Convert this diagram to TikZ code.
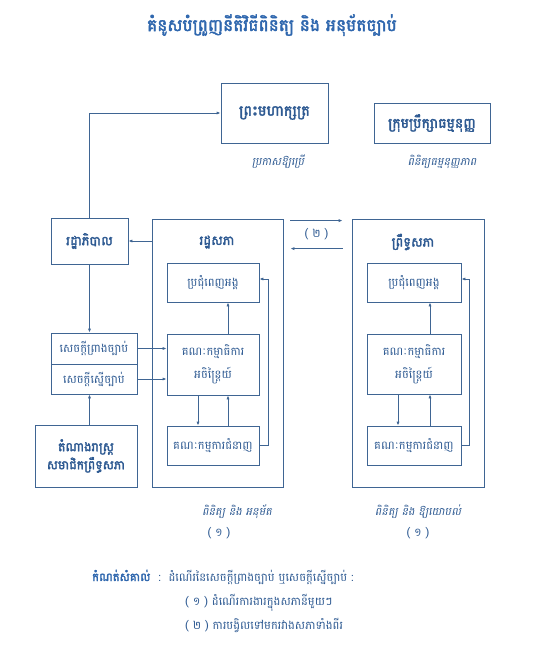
\documentclass[tikz,border=0pt]{standalone}
\usepackage{fontspec}
\usepackage{xcolor}
\usepackage{tikz}
\usetikzlibrary{arrows.meta,positioning,calc}
\newfontfamily\khmer[Script=Khmer,AutoFakeBold=2.5,AutoFakeSlant=0.2]{Battambang}
\definecolor{lineblue}{HTML}{3F6593}
\definecolor{textblue}{HTML}{2E5A92}
\definecolor{titleblue}{HTML}{2F67AE}
\newcommand{\kh}{\khmer\fontsize{11.5}{15}\selectfont}
\newcommand{\khb}{\khmer\bfseries\fontsize{13}{18}\selectfont}

\begin{document}
\begin{tikzpicture}[x=1pt,y=-1pt,
    box/.style={draw=lineblue,line width=0.8pt,inner sep=0pt,align=center,text=textblue,font=\kh},
    bigbox/.style={box,font=\khb},
    frame/.style={draw=lineblue,line width=0.8pt,inner sep=0pt},
    lbl/.style={text=textblue,font=\kh,inner sep=1pt},
    slant/.style={lbl,font=\khmer\itshape\fontsize{11}{14}\selectfont},
    arr/.style={draw=lineblue,line width=0.8pt,-{Latex[length=4pt,width=3.2pt]}}]
  \useasboundingbox (0,0) rectangle (549,661);

  % Title
  \node[text=titleblue,font=\khmer\bfseries\fontsize{17}{20}\selectfont] (title) at (272,25)
    {គំនូសបំព្រួញនីតិវិធីពិនិត្យ  និង  អនុម័តច្បាប់};

  % Top boxes
  \node[bigbox,font=\khmer\bfseries\fontsize{14.5}{18}\selectfont,
        minimum width=107pt,minimum height=60pt] (king) at (274.5,113) {ព្រះមហាក្សត្រ};
  \node[bigbox,font=\khmer\bfseries\fontsize{14}{18}\selectfont,
        minimum width=116pt,minimum height=40pt] (council) at (432,123) {ក្រុមប្រឹក្សាធម្មនុញ្ញ};
  \node[slant] (kinglbl) at (278,162) {ប្រកាសឱ្យប្រើ};
  \node[slant] (councillbl) at (442,162) {ពិនិត្យធម្មនុញ្ញភាព};

  % Government side
  \node[bigbox,minimum width=77pt,minimum height=46pt] (gov) at (89.5,241) {រដ្ឋាភិបាល};
  \node[box,minimum width=86pt,minimum height=31pt] (draft) at (94,348.5) {សេចក្តីព្រាងច្បាប់};
  \node[box,minimum width=86pt,minimum height=30pt] (propose) at (94,379) {សេចក្តីស្នើច្បាប់};
  \node[bigbox,font=\khmer\bfseries\fontsize{12.5}{18}\selectfont,
        minimum width=102pt,minimum height=62pt] (mps) at (86,456)
    {តំណាងរាស្ត្រ\\សមាជិកព្រឹទ្ធសភា};

  % National Assembly
  \node[frame,minimum width=131pt,minimum height=268pt] (na) at (217.5,353) {};
  \node[lbl,font=\khb] (natitle) at (217,242) {រដ្ឋសភា};
  \node[box,minimum width=92pt,minimum height=39pt] (naplen) at (213,282.5) {ប្រជុំពេញអង្គ};
  \node[box,minimum width=92pt,minimum height=61pt] (nacomm) at (213,364.5)
    {គណៈកម្មាធិការ\\[8pt]អចិន្ត្រៃយ៍};
  \node[box,minimum width=92pt,minimum height=39pt] (naspec) at (213,445.5) {គណៈកម្មការជំនាញ};

  % Senate
  \node[frame,minimum width=132pt,minimum height=268pt] (senate) at (418,353) {};
  \node[lbl,font=\khb] (setitle) at (413,242) {ព្រឹទ្ធសភា};
  \node[box,minimum width=94pt,minimum height=39pt] (seplen) at (414,282.5) {ប្រជុំពេញអង្គ};
  \node[box,minimum width=94pt,minimum height=60pt] (secomm) at (414,364)
    {គណៈកម្មាធិការ\\[8pt]អចិន្ត្រៃយ៍};
  \node[box,minimum width=94pt,minimum height=39pt] (sespec) at (414,445.5) {គណៈកម្មការជំនាញ};

  % Bottom labels
  \node[slant] (nalbl) at (237,512) {ពិនិត្យ និង អនុម័ត};
  \node[lbl] (nanum) at (219,533) {( ១ )};
  \node[slant] (selbl) at (418,512) {ពិនិត្យ និង ឱ្យយោបល់};
  \node[lbl] (senum) at (418,533) {( ១ )};

  % Government connectors
  \draw[arr] (gov.north) |- (king.west);
  \draw[arr] (na.west |- gov.east) -- (gov.east);
  \draw[arr] (gov.south) -- (gov.south |- draft.north);
  \draw[arr] (gov.south |- mps.north) -- (gov.south |- propose.south);
  \draw[arr] (draft.east) -- (draft.east -| nacomm.west);
  \draw[arr] (propose.east) -- (propose.east -| nacomm.west);

  % Inside National Assembly
  \draw[arr] ([xshift=15pt]nacomm.north) -- ([xshift=15pt]naplen.south);
  \draw[arr] ([xshift=-15pt]nacomm.south) -- ([xshift=-15pt]naspec.north);
  \draw[arr] ([xshift=15pt]naspec.north) -- ([xshift=15pt]nacomm.south);
  \draw[arr] (naspec.east) -- ++(9,0) |- ([yshift=3.5pt]naplen.east);

  % Inside Senate
  \draw[arr] ([xshift=16pt]secomm.north) -- ([xshift=16pt]seplen.south);
  \draw[arr] ([xshift=-16pt]secomm.south) -- ([xshift=-16pt]sespec.north);
  \draw[arr] ([xshift=16pt]sespec.north) -- ([xshift=16pt]secomm.south);
  \draw[arr] (sespec.east) -- ++(8,0) |- ([yshift=3.5pt]seplen.east);

  % Between the two houses
  \coordinate (natop) at ($(na.north east)+(7,2)$);
  \coordinate (setop) at ($(senate.north west)+(-9,2)$);
  \coordinate (nabot) at ($(na.north east)+(7,30)$);
  \coordinate (sebot) at ($(senate.north west)+(-9,30)$);
  \draw[arr] (natop) -- (setop);
  \draw[arr] (sebot) -- (nabot);
  \node[lbl] (n2) at ($(natop)!0.5!(sebot)$) {( ២ )};

  % Notes
  \node[lbl,anchor=west] (note) at (91,577)
    {{\bfseries\color{titleblue}កំណត់សំគាល់}\ \ :\ \ ដំណើរនៃសេចក្តីព្រាងច្បាប់ ឬសេចក្តីស្នើច្បាប់ :};
  \node[lbl,anchor=west] (note1) at (184,603) {( ១ ) ដំណើរការងារក្នុងសភានីមួយៗ};
  \node[lbl,anchor=west] (note2) at (184,625) {( ២ ) ការបង្វិលទៅមករវាងសភាទាំងពីរ};
\end{tikzpicture}
\end{document}
